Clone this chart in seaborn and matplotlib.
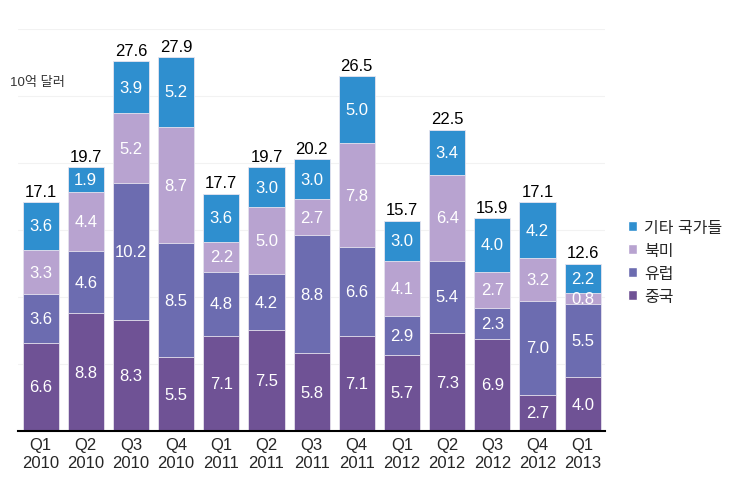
import numpy as np
import pandas as pd
import matplotlib
matplotlib.use("Agg")
import matplotlib.pyplot as plt
import seaborn as sns
from matplotlib.patches import Patch

# 분기별 데이터 (10억 달러)
quarters = ["Q1\n2010", "Q2\n2010", "Q3\n2010", "Q4\n2010", "Q1\n2011", "Q2\n2011",
            "Q3\n2011", "Q4\n2011", "Q1\n2012", "Q2\n2012", "Q3\n2012", "Q4\n2012", "Q1\n2013"]
china = [6.6, 8.8, 8.3, 5.5, 7.1, 7.5, 5.8, 7.1, 5.7, 7.3, 6.9, 2.7, 4.0]
europe = [3.6, 4.6, 10.2, 8.5, 4.8, 4.2, 8.8, 6.6, 2.9, 5.4, 2.3, 7.0, 5.5]
north_america = [3.3, 4.4, 5.2, 8.7, 2.2, 5.0, 2.7, 7.8, 4.1, 6.4, 2.7, 3.2, 0.8]
others = [3.6, 1.9, 3.9, 5.2, 3.6, 3.0, 3.0, 5.0, 3.0, 3.4, 4.0, 4.2, 2.2]
totals = [17.1, 19.7, 27.6, 27.9, 17.7, 19.7, 20.2, 26.5, 15.7, 22.5, 15.9, 17.1, 12.6]

series_names = ["중국", "유럽", "북미", "기타 국가들"]
colors = ["#6f5295", "#6c6cb0", "#b8a3d0", "#2f8fcf"]

sns.set_style("white")
plt.rcParams["font.family"] = ["Liberation Sans", "Noto Sans CJK KR", "DejaVu Sans"]

df = pd.DataFrame({"분기": quarters, "중국": china, "유럽": europe,
                   "북미": north_america, "기타 국가들": others})

fig = plt.figure(figsize=(7.5, 4.89), dpi=100)
ax = fig.add_axes([0.024, 0.1166, 0.783, 0.822])

# 누적값 계산 후 위에서부터 겹쳐 그리기
layers = df[series_names].to_numpy()
cum = np.cumsum(layers, axis=1)
for i in reversed(range(len(series_names))):
    tmp = pd.DataFrame({"분기": quarters, "값": cum[:, i]})
    sns.barplot(data=tmp, x="분기", y="값", color=colors[i], saturation=1,
                width=0.8, edgecolor="#e8e4ef", linewidth=0.6, ax=ax)

# 세그먼트 라벨
for j in range(len(quarters)):
    bottom = 0
    for i in range(len(series_names)):
        v = layers[j, i]
        ax.text(j, bottom + v / 2, f"{v:.1f}", ha="center", va="center",
                color="white", fontsize=12)
        bottom += v
    ax.text(j, cum[j, -1] + 0.25, f"{totals[j]:.1f}", ha="center", va="bottom",
            color="black", fontsize=12)

ax.set_ylim(0, 30)
ax.set_xlim(-0.5, len(quarters) - 0.5)
ax.set_yticks([5, 10, 15, 20, 25, 30])
ax.set_yticklabels([])
ax.tick_params(axis="y", length=0)
ax.grid(axis="y", color="#f2f2f2", linewidth=0.8)
ax.set_axisbelow(True)
ax.set_xlabel("")
ax.set_ylabel("")
for s in ["top", "right", "left"]:
    ax.spines[s].set_visible(False)
ax.spines["bottom"].set_color("black")
ax.spines["bottom"].set_linewidth(1.5)

ax.set_xticks(range(len(quarters)))
ax.set_xticklabels(quarters, fontsize=12, linespacing=1.3)
ax.tick_params(axis="x", which="major", length=0, pad=4)
ax.set_xticks(np.arange(-0.5, len(quarters), 1), minor=True)
ax.tick_params(axis="x", which="minor", length=5, width=1.5, color="black", direction="out")

fig.text(0.013, 0.825, "10억 달러", fontsize=9.5, color="#333333")

handles = [Patch(facecolor=colors[i], label=series_names[i]) for i in reversed(range(4))]
leg = fig.legend(handles=handles, loc="upper left", bbox_to_anchor=(0.818, 0.578),
                 frameon=False, fontsize=11.5, handlelength=0.6, handleheight=0.6,
                 handletextpad=0.4, labelspacing=0.5)

fig.savefig("out.png", dpi=100)
